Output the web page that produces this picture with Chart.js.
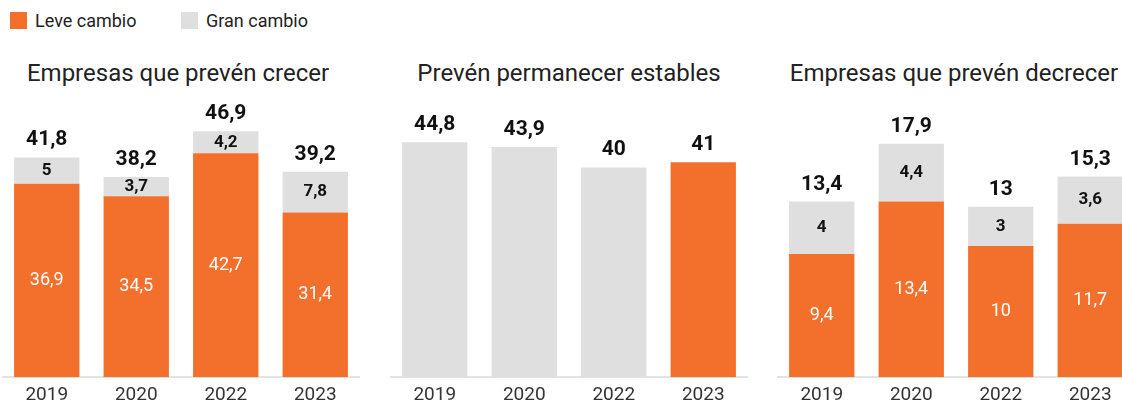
<!DOCTYPE html>
<html>
<head>
<meta charset="utf-8">
<script src="https://cdn.jsdelivr.net/npm/chart.js@4"></script>
<style>
  body { margin: 0; width: 1122px; height: 405px; overflow: hidden; background: #fff; font-family: Roboto, sans-serif; position: relative; }
  .leyenda { position: absolute; top: 10px; font-size: 18px; color: #222; display: flex; align-items: center; }
  .leyenda span { display: inline-block; width: 17px; height: 17px; margin-right: 8px; }
  .titulo { position: absolute; top: 59px; width: 360px; text-align: center; font-size: 24px; color: #222; }
  .panel { position: absolute; top: 100px; height: 314px; width: 358px; }
</style>
</head>
<body>
<div class="leyenda" style="left:10px"><span style="background:#f3702c"></span>Leve cambio</div>
<div class="leyenda" style="left:181px"><span style="background:#dfdfdf"></span>Gran cambio</div>

<div class="titulo" style="left:-2px">Empresas que prevén crecer</div>
<div class="titulo" style="left:389px">Prevén permanecer estables</div>
<div class="titulo" style="left:774px">Empresas que prevén decrecer</div>

<div class="panel" style="left:2px"><canvas id="graf-crecer"></canvas></div>
<div class="panel" style="left:390px"><canvas id="graf-estables"></canvas></div>
<div class="panel" style="left:777px"><canvas id="graf-decrecer"></canvas></div>

<script>
  // Datos
  const anios = ["2019", "2020", "2022", "2023"];
  const crecerLeve = [36.9, 34.5, 42.7, 31.4];
  const crecerGran = [5, 3.7, 4.2, 7.8];
  const crecerTotal = [41.8, 38.2, 46.9, 39.2];
  const estables = [44.8, 43.9, 40, 41];
  const decrecerLeve = [9.4, 13.4, 10, 11.7];
  const decrecerGran = [4, 4.4, 3, 3.6];
  const decrecerTotal = [13.4, 17.9, 13, 15.3];

  const NARANJA = "#f3702c";
  const GRIS = "#dfdfdf";

  const fmt = v => String(v).replace(".", ",");

  // Etiquetas dibujadas sobre las barras
  const etiquetas = {
    id: "etiquetas",
    afterDatasetsDraw(chart, args, opts) {
      const ctx = chart.ctx;
      ctx.save();
      ctx.textAlign = "center";
      chart.data.datasets.forEach((ds, i) => {
        const meta = chart.getDatasetMeta(i);
        if (!ds.etiqueta) return;
        meta.data.forEach((bar, j) => {
          const mid = (bar.y + bar.base) / 2;
          ctx.textBaseline = "middle";
          if (ds.etiqueta === "blanco") {
            ctx.font = "18px Roboto";
            ctx.fillStyle = "#fff";
            ctx.fillText(fmt(ds.data[j]), bar.x, mid);
          } else if (ds.etiqueta === "negro") {
            ctx.font = "bold 17px Roboto";
            ctx.fillStyle = "#111";
            ctx.fillText(fmt(ds.data[j]), bar.x, mid);
          }
        });
      });
      // totales encima
      const totales = opts.totales;
      if (totales) {
        const top = chart.getDatasetMeta(chart.data.datasets.length - 1);
        ctx.font = "bold 21px Roboto";
        ctx.fillStyle = "#111";
        ctx.textBaseline = "alphabetic";
        top.data.forEach((bar, j) => {
          ctx.fillText(fmt(totales[j]), bar.x, bar.y - 12);
        });
      }
      ctx.restore();
    }
  };

  function opciones(max, totales) {
    return {
      responsive: true,
      maintainAspectRatio: false,
      animation: false,
      layout: { padding: { top: 15, bottom: 0 } },
      plugins: { legend: { display: false }, tooltip: { enabled: false }, etiquetas: { totales } },
      scales: {
        x: {
          stacked: true,
          grid: { display: false, drawTicks: false },
          border: { color: "#e3e3e3", width: 2 },
          ticks: { color: "#333", font: { family: "Roboto", size: 19 }, padding: 7 }
        },
        y: { stacked: true, display: false, min: 0, max: max }
      }
    };
  }

  new Chart(document.getElementById("graf-crecer"), {
    type: "bar",
    data: {
      labels: anios,
      datasets: [
        { label: "Leve cambio", data: crecerLeve, backgroundColor: NARANJA, barPercentage: 0.73, categoryPercentage: 1, etiqueta: "blanco" },
        { label: "Gran cambio", data: crecerGran, backgroundColor: GRIS, barPercentage: 0.73, categoryPercentage: 1, etiqueta: "negro" }
      ]
    },
    options: opciones(50, crecerTotal),
    plugins: [etiquetas]
  });

  new Chart(document.getElementById("graf-estables"), {
    type: "bar",
    data: {
      labels: anios,
      datasets: [
        { label: "Estables", data: estables, backgroundColor: [GRIS, GRIS, GRIS, NARANJA], barPercentage: 0.73, categoryPercentage: 1 }
      ]
    },
    options: opciones(50, estables),
    plugins: [etiquetas]
  });

  new Chart(document.getElementById("graf-decrecer"), {
    type: "bar",
    data: {
      labels: anios,
      datasets: [
        { label: "Leve cambio", data: decrecerLeve, backgroundColor: NARANJA, barPercentage: 0.73, categoryPercentage: 1, etiqueta: "blanco" },
        { label: "Gran cambio", data: decrecerGran, backgroundColor: GRIS, barPercentage: 0.73, categoryPercentage: 1, etiqueta: "negro" }
      ]
    },
    options: opciones(20, decrecerTotal),
    plugins: [etiquetas]
  });
</script>
</body>
</html>
